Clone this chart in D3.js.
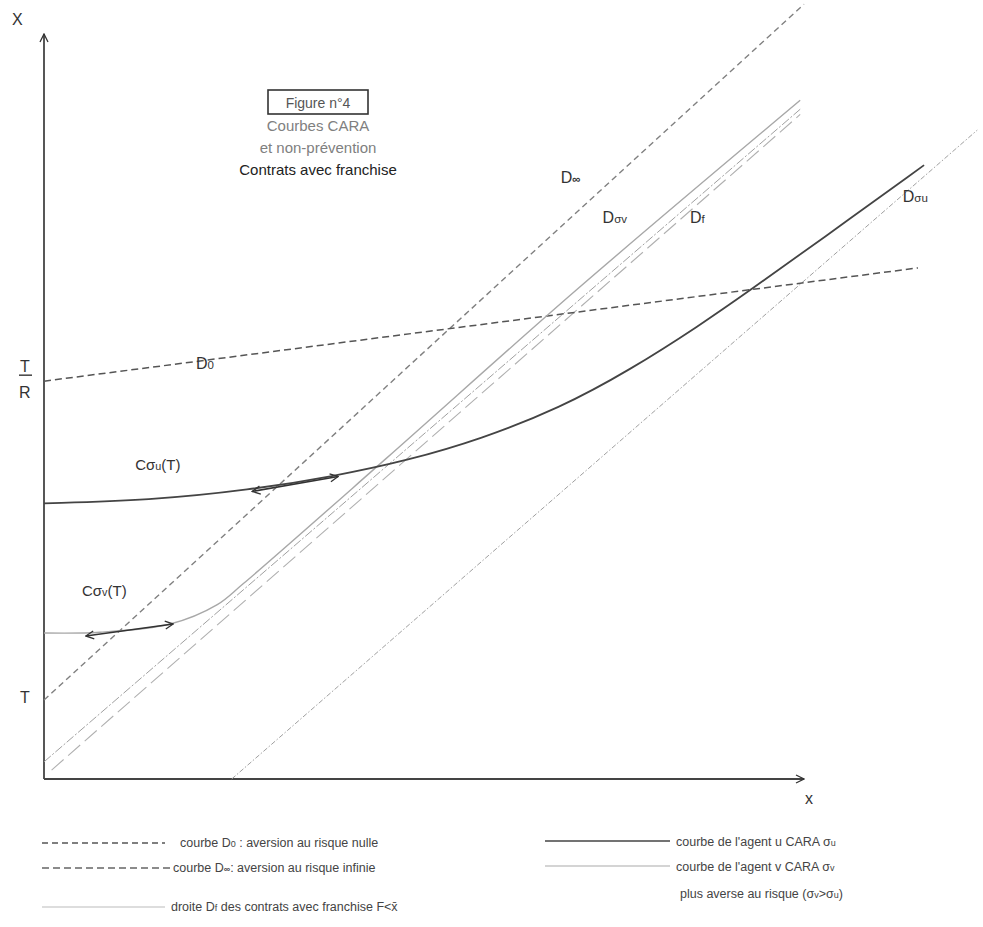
<!DOCTYPE html>
<html>
<head>
<meta charset="utf-8">
<script src="https://cdnjs.cloudflare.com/ajax/libs/d3/7.8.5/d3.min.js"></script>
<style>
  body { margin: 0; background: #fff; }
  svg text { font-family: Arial, "Liberation Sans", sans-serif; }
</style>
</head>
<body>
<div id="chart"></div>
<script>
// straight lines, [x, y] end points in chart units
var lineD0 = [[0, 5.34], [11.5, 6.86]];
var lineDinf = [[0, 1.06], [10, 10.4]];
var lineDsv = [[0, 0.23], [9.95, 8.99]];
var lineDf = [[0.1, 0.12], [9.95, 8.92]];
var lineDsu = [[2.47, 0], [12.28, 8.71]];

// curves of the agents
var curveCsu = [[0, 3.70], [1.39, 3.74], [2.71, 3.88], [3.8, 4.06], [4.8, 4.28], [5.74, 4.56],
  [6.79, 4.98], [7.71, 5.49], [8.63, 6.09], [9.29, 6.56], [10.21, 7.23], [11.58, 8.24]];
var curveCsv = [[0, 1.96], [0.74, 1.97], [1.66, 2.08], [2.28, 2.34], [2.62, 2.62],
  [4.5, 4.30], [7.0, 6.56], [9.95, 9.11]];

// arrows drawn along the curves
var arrowCsu = [[2.74, 3.86], [3.87, 4.06]];
var arrowCsv = [[0.55, 1.92], [1.70, 2.08]];

var titleLines = ['Courbes CARA', 'et non-prévention', 'Contrats avec franchise'];

var width = 983, height = 927;
var svg = d3.select('#chart').append('svg')
  .attr('width', width)
  .attr('height', height);

var x = d3.scaleLinear().domain([0, 10]).range([44, 804]);
var y = d3.scaleLinear().domain([0, 10]).range([779, 34]);

var line = d3.line()
  .x(function(d) { return x(d[0]); })
  .y(function(d) { return y(d[1]); });
var smooth = d3.line()
  .x(function(d) { return x(d[0]); })
  .y(function(d) { return y(d[1]); })
  .curve(d3.curveCatmullRom.alpha(0.5));
var basis = d3.line()
  .x(function(d) { return x(d[0]); })
  .y(function(d) { return y(d[1]); })
  .curve(d3.curveBasis);

// arrow heads
var defs = svg.append('defs');
defs.append('marker')
  .attr('id', 'head')
  .attr('viewBox', '0 0 10 10')
  .attr('refX', 9).attr('refY', 5)
  .attr('markerWidth', 10).attr('markerHeight', 10)
  .attr('markerUnits', 'userSpaceOnUse')
  .attr('orient', 'auto-start-reverse')
  .append('path')
  .attr('d', 'M1,1 L9,5 L1,9')
  .attr('fill', 'none')
  .attr('stroke', '#333')
  .attr('stroke-width', 1.3);

// axes (plain arrows, no ticks)
svg.append('path')
  .attr('d', line([[0, 0], [0, 10]]))
  .attr('stroke', '#444').attr('stroke-width', 1.8).attr('fill', 'none')
  .attr('marker-end', 'url(#head)');
svg.append('path')
  .attr('d', line([[0, 0], [10, 0]]))
  .attr('stroke', '#444').attr('stroke-width', 1.8).attr('fill', 'none')
  .attr('marker-end', 'url(#head)');

// reference lines
function drawLine(data, color, w, dash) {
  svg.append('path')
    .attr('d', line(data))
    .attr('fill', 'none')
    .attr('stroke', color)
    .attr('stroke-width', w)
    .attr('stroke-dasharray', dash);
}
drawLine(lineDinf, '#808080', 1.4, '6,4');
drawLine(lineDf, '#b0b0b0', 1.1, '16,6');
drawLine(lineDsv, '#a0a0a0', 1.0, '9,2,2,2');
drawLine(lineDsu, '#a0a0a0', 1.0, '5,2,1.5,2');
drawLine(lineD0, '#555', 1.5, '7,4');

// agent curves
svg.append('path')
  .attr('d', smooth(curveCsv))
  .attr('fill', 'none').attr('stroke', '#a8a8a8').attr('stroke-width', 1.4);
svg.append('path')
  .attr('d', basis(curveCsu))
  .attr('fill', 'none').attr('stroke', '#444').attr('stroke-width', 1.8);

[arrowCsu, arrowCsv].forEach(function(a) {
  svg.append('path')
    .attr('d', line(a))
    .attr('fill', 'none').attr('stroke', '#333').attr('stroke-width', 1.6)
    .attr('marker-start', 'url(#head)')
    .attr('marker-end', 'url(#head)');
});

// labels
function label(px, py, parts, size, color) {
  var t = svg.append('text')
    .attr('x', px).attr('y', py)
    .attr('font-size', size)
    .attr('fill', color || '#333');
  parts.forEach(function(p) {
    var s = t.append('tspan').text(p.t);
    if (p.sub) s.attr('font-size', size * 0.72);
    if (p.bold) s.attr('font-weight', 'bold');
  });
  return t;
}
label(12, 25, [{t: 'X'}], 16);
label(805, 804, [{t: 'x'}], 16);
label(20, 703, [{t: 'T'}], 16);
label(20, 372, [{t: 'T'}], 16);
svg.append('line').attr('x1', 19).attr('x2', 32).attr('y1', y(5.34) - 6).attr('y2', y(5.34) - 6)
  .attr('stroke', '#333').attr('stroke-width', 1.4);
label(19, 398, [{t: 'R'}], 16);

label(x(2.0), y(5.55) + 3, [{t: 'D'}, {t: '0', sub: true}], 16);
label(x(6.8), y(8.0), [{t: 'D'}, {t: '∞', sub: true, bold: true}], 16);
label(x(7.35), y(7.5) + 3, [{t: 'D'}, {t: 'σv', sub: true}], 16);
label(x(8.5), y(7.5) + 3, [{t: 'D'}, {t: 'f', sub: true}], 16);
label(x(11.3), y(7.75), [{t: 'D'}, {t: 'σu', sub: true}], 16);
label(x(1.2), y(4.15), [{t: 'C'}, {t: 'σ'}, {t: 'u', sub: true}, {t: '(T)'}], 15);
label(x(0.5), y(2.45), [{t: 'C'}, {t: 'σ'}, {t: 'v', sub: true}, {t: '(T)'}], 15);

// title block
svg.append('rect')
  .attr('x', 268).attr('y', 90).attr('width', 100).attr('height', 24)
  .attr('fill', 'none').attr('stroke', '#333').attr('stroke-width', 1.6);
svg.append('text').attr('x', 318).attr('y', 108).attr('text-anchor', 'middle')
  .attr('font-size', 14).attr('fill', '#555').text('Figure n°4');
svg.selectAll('.title').data(titleLines).enter().append('text')
  .attr('class', 'title')
  .attr('x', 318)
  .attr('y', function(d, i) { return 131 + i * 22; })
  .attr('text-anchor', 'middle')
  .attr('font-size', 15)
  .attr('fill', function(d, i) { return i < 2 ? '#808080' : '#222'; })
  .text(function(d) { return d; });

// legend
var legendLeft = [
  {y: 843, dash: '6,4', color: '#555', w: 1.3, x2: 165, tx: 180,
    parts: [{t: 'courbe D'}, {t: '0', sub: true}, {t: ' : aversion au risque nulle'}]},
  {y: 868, dash: '7,4', color: '#666', w: 1.3, x2: 170, tx: 173,
    parts: [{t: 'courbe D'}, {t: '∞', sub: true, bold: true}, {t: ': aversion au risque infinie'}]},
  {y: 907, dash: null, color: '#bbb', w: 1.1, x2: 165, tx: 171,
    parts: [{t: 'droite D'}, {t: 'f', sub: true}, {t: ' des contrats avec franchise F<'}, {t: 'x̄'}]}
];
var legendRight = [
  {y: 841, color: '#444', w: 1.5, parts: [{t: "courbe de l'agent u CARA σ"}, {t: 'u', sub: true}]},
  {y: 866, color: '#aaa', w: 1.2, parts: [{t: "courbe de l'agent v CARA σ"}, {t: 'v', sub: true}]}
];
legendLeft.forEach(function(d) {
  svg.append('line').attr('x1', 42).attr('x2', d.x2).attr('y1', d.y).attr('y2', d.y)
    .attr('stroke', d.color).attr('stroke-width', d.w).attr('stroke-dasharray', d.dash);
  label(d.tx, d.y + 4, d.parts, 12.5, '#444');
});
legendRight.forEach(function(d) {
  svg.append('line').attr('x1', 545).attr('x2', 670).attr('y1', d.y).attr('y2', d.y)
    .attr('stroke', d.color).attr('stroke-width', d.w);
  label(676, d.y + 5, d.parts, 12.5, '#444');
});
label(680, 898, [{t: 'plus averse au risque (σ'}, {t: 'v', sub: true}, {t: '>σ'}, {t: 'u', sub: true}, {t: ')'}], 12.5, '#444');
</script>
</body>
</html>
